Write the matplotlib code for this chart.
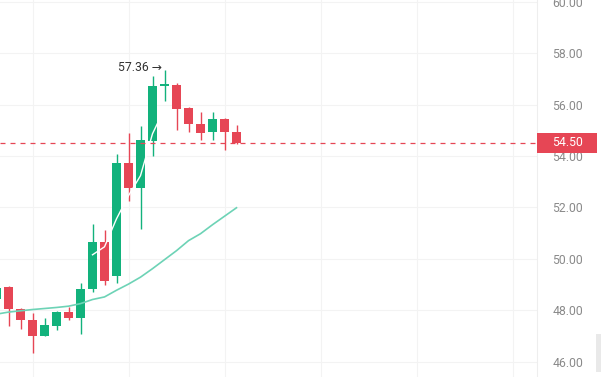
import matplotlib

matplotlib.use("Agg")
import matplotlib.pyplot as plt
from matplotlib.patches import Rectangle
import numpy as np

# candle index -1 is the one cut off at the left edge
opens = [48.45, 48.92, 48.06, 47.63, 47.01, 47.40, 47.95, 47.71, 48.82, 50.64, 49.32,
         53.72, 52.75, 54.60, 56.74, 56.78, 55.86, 55.25, 54.92, 55.44, 54.92]
highs = [48.95, 48.95, 48.10, 47.90, 47.71, 47.98, 48.14, 49.07, 51.37, 51.14, 54.08,
         54.89, 55.16, 57.13, 57.36, 56.83, 55.90, 55.70, 55.70, 55.50, 55.22]
lows = [48.30, 47.40, 47.28, 46.35, 47.00, 47.25, 47.63, 47.09, 48.70, 49.00, 49.07,
        52.26, 51.16, 54.02, 56.16, 55.03, 54.92, 54.64, 54.62, 54.23, 54.47]
closes = [48.88, 48.06, 47.63, 47.01, 47.44, 47.95, 47.70, 48.84, 50.64, 49.15, 53.75,
          52.75, 54.64, 56.74, 56.78, 55.82, 55.25, 54.89, 55.44, 54.92, 54.50]
ma_long = [47.85, 47.93, 47.98, 48.03, 48.07, 48.11, 48.16, 48.26, 48.42, 48.52, 48.78,
           49.02, 49.29, 49.62, 49.97, 50.32, 50.71, 50.98, 51.33, 51.66, 51.99]
ma_short = [50.16, 50.47, 51.56, 52.46, 53.24, 54.87, 55.84]  # candles 7..13
price_ticks = [46, 48, 50, 52, 54, 56, 58, 60]
last_price = 54.50
high_label = "57.36 →"

GREEN = "#12b27c"
RED = "#e64655"

W, H = 601, 377
fig = plt.figure(figsize=(W / 100, H / 100), dpi=100)
ax = fig.add_axes([0, 0, 537 / W, 1])

idx = np.arange(-1, len(opens) - 1)
x_lo = (0 - 8.5) / 12
x_hi = (537 - 8.5) / 12
ax.set_xlim(x_lo, x_hi)
ax.set_ylim(46 - 15.3 / 25.7, 46 + 361.7 / 25.7)

for i, o, h, l, c in zip(idx, opens, highs, lows, closes):
    color = GREEN if c >= o else RED
    ax.vlines(i, l, h, color=color, linewidth=1.0, zorder=2)
    bottom = min(o, c)
    height = max(abs(c - o), 0.05)
    ax.bar(i, height, bottom=bottom, width=0.75, color=color, linewidth=0, zorder=3)

ax.plot(idx, ma_long, color="#6dd3b6", linewidth=1.2, zorder=4)
ax.plot(np.arange(7, 7 + len(ma_short)), ma_short, color="white", linewidth=1.0, zorder=4)

ax.axhline(last_price, color=RED, linestyle=(0, (4, 4)), linewidth=0.9, zorder=5)

ax.text(12.8, 57.43, high_label, ha="right", va="center", fontsize=8.8,
        color="#333333", family=["Roboto", "DejaVu Sans"], zorder=6)

ax.set_xticks([2, 10, 18, 26, 34, 42])
ax.set_xticklabels([])
ax.set_yticks(price_ticks)
ax.set_yticklabels([f"{v:.2f}" for v in price_ticks])
ax.yaxis.tick_right()
ax.tick_params(axis="both", length=0)
ax.tick_params(axis="y", pad=11, labelsize=8.8, labelcolor="#8a8a8a")
for label in ax.get_yticklabels():
    label.set_family("Roboto")
    label.set_horizontalalignment("left")
ax.grid(True, color="#f3f3f3", linewidth=0.8)
ax.set_axisbelow(True)
for side in ["top", "bottom", "left"]:
    ax.spines[side].set_visible(False)
ax.spines["right"].set_color("#eeeeee")
ax.spines["right"].set_linewidth(0.8)

# last price tag on the axis
fig.patches.append(Rectangle((537 / W, 1 - 153 / H), 60 / W, 20 / H,
                             transform=fig.transFigure, facecolor=RED, edgecolor="none"))
fig.text(552 / W, 1 - 143 / H, f"{last_price:.2f}", color="white", fontsize=8.8,
         family="Roboto", ha="left", va="center")

# small scroll handle at bottom right
fig.patches.append(Rectangle((596 / W, 1 - 372 / H), 5 / W, 38 / H,
                             transform=fig.transFigure, facecolor="#e9e9e9", edgecolor="none"))

fig.savefig("out.png", dpi=100)
